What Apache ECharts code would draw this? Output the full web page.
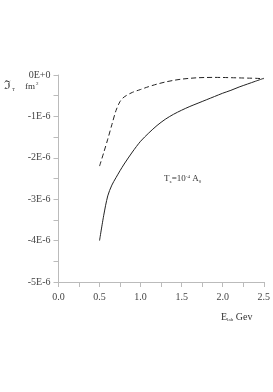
<!DOCTYPE html>
<html><head><meta charset="utf-8">
<script src="https://cdn.jsdelivr.net/npm/echarts@6/dist/echarts.min.js"></script>
<style>html,body{margin:0;padding:0;background:#fff}#c{width:273px;height:392px}</style>
</head><body><div id="c"></div>
<script>
const xTicks = [0.0, 0.5, 1.0, 1.5, 2.0, 2.5];
const yTicks = [0, -1e-6, -2e-6, -3e-6, -4e-6, -5e-6];
const energy = [0.5, 0.55, 0.6, 0.65, 0.7, 0.75, 0.8, 0.9, 1.0, 1.1, 1.2, 1.3, 1.4, 1.5, 1.6, 1.7, 1.8, 1.9, 2.0, 2.1, 2.2, 2.3, 2.4, 2.5];
const solidVals = [-4.0, -3.4, -2.92, -2.66, -2.48, -2.31, -2.15, -1.86, -1.6, -1.4, -1.22, -1.07, -0.95, -0.85, -0.76, -0.68, -0.6, -0.52, -0.44, -0.37, -0.29, -0.22, -0.15, -0.08];
const dashedVals = [-2.2, -1.88, -1.55, -1.2, -0.86, -0.64, -0.53, -0.42, -0.35, -0.28, -0.22, -0.17, -0.13, -0.1, -0.08, -0.066, -0.06, -0.058, -0.06, -0.065, -0.07, -0.075, -0.08, -0.09];

const font = '"Liberation Serif", "Times New Roman", serif';
const chart = echarts.init(document.getElementById('c'));
const pair = (vals) => energy.map((x, i) => [x, vals[i] * 1e-6]);
chart.setOption({
  animation: false,
  grid: {left: 58.5, right: 6.5, top: 75, bottom: 110},
  xAxis: {
    type: 'value', min: 0, max: 2.5, interval: 0.5,
    axisLine: {show: true, onZero: false, lineStyle: {color: '#bbb', width: 1}},
    axisTick: {show: true, length: 5, lineStyle: {color: '#bbb'}},
    minorTick: {show: true, splitNumber: 2, length: 5, lineStyle: {color: '#bbb'}},
    splitLine: {show: false},
    axisLabel: {color: '#444', fontFamily: font, fontSize: 10, margin: 10,
      formatter: v => v.toFixed(1)}
  },
  yAxis: {
    type: 'value', min: -5e-6, max: 0, interval: 1e-6,
    axisLine: {show: true, onZero: false, lineStyle: {color: '#bbb', width: 1}},
    axisTick: {show: true, length: 5, lineStyle: {color: '#bbb'}},
    minorTick: {show: true, splitNumber: 2, length: 5, lineStyle: {color: '#bbb'}},
    splitLine: {show: false},
    axisLabel: {color: '#444', fontFamily: font, fontSize: 10, margin: 8,
      formatter: v => { const n = Math.round(v * 1e6); return n === 0 ? '0E+0' : n + 'E-6'; }}
  },
  series: [
    {type: 'line', data: pair(solidVals), smooth: 0.3, symbol: 'none',
     lineStyle: {color: '#222', width: 1}},
    {type: 'line', data: pair(dashedVals), smooth: 0.3, symbol: 'none',
     lineStyle: {color: '#222', width: 1, type: [5, 3]}}
  ],
  graphic: [
    {type: 'text', left: 4, top: 80, style: {
      text: '{a|ℑ}{s|T}', fill: '#333',
      rich: {a: {fontFamily: font, fontSize: 12, fill: '#333'},
             s: {fontFamily: font, fontSize: 5, fill: '#333', padding: [7, 0, 0, 1]}}}},
    {type: 'text', left: 25, top: 81, style: {
      text: '{a|fm}{s|2}', rich: {a: {fontFamily: font, fontSize: 9, fill: '#333'},
             s: {fontFamily: font, fontSize: 5, fill: '#333', padding: [0, 0, 6, 1]}}}},
    {type: 'text', left: 164, top: 174, style: {
      text: '{a|T}{b|z}{a|=10}{c|-4}{a| A}{b|0}',
      rich: {a: {fontFamily: font, fontSize: 9, fill: '#333'},
             b: {fontFamily: font, fontSize: 5, fill: '#333', padding: [5, 0, 0, 0]},
             c: {fontFamily: font, fontSize: 5, fill: '#333', padding: [0, 0, 5, 0]}}}},
    {type: 'text', left: 221, top: 312, style: {
      text: '{a|E}{b|lab}{a| Gev}',
      rich: {a: {fontFamily: font, fontSize: 10, fill: '#333'},
             b: {fontFamily: font, fontSize: 5, fill: '#333', padding: [5, 0, 0, 0]}}}}
  ]
});
</script></body></html>
